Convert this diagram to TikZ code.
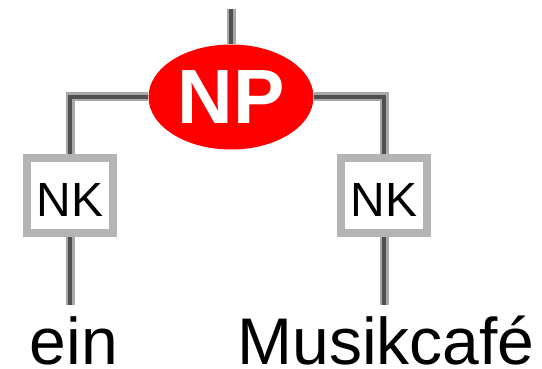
\documentclass[tikz,border=0pt]{standalone}
\usepackage{fontspec}
\setmainfont{Liberation Sans}
\usetikzlibrary{shapes.geometric}

\definecolor{edgecore}{HTML}{505050}
\definecolor{edgeside}{HTML}{A8A8A8}
\definecolor{boxgray}{HTML}{B4B4B4}

\begin{document}
\begin{tikzpicture}[x=1pt,y=-1pt,
    edge/.style={draw=edgeside,double=edgecore,double distance=4pt,line width=2.5pt,line join=miter},
    cat/.style={ellipse,fill=red,text=white,inner sep=0pt,minimum width=165pt,minimum height=105pt,font=\fontsize{77}{80}\selectfont\bfseries},
    fn/.style={draw=boxgray,line width=8pt,fill=white,inner sep=0pt,minimum width=86pt,minimum height=75pt,text height=43pt,text depth=0pt,font=\fontsize{48}{50}\selectfont},
    word/.style={inner sep=0pt,anchor=base,text height=47pt,font=\fontsize{66}{70}\selectfont}]
      \useasboundingbox (0,0) rectangle (542,369);
      \node[cat] (np) at (231,97) {NP};
      \node[fn] (nk1) at (70,195.5) {NK};
      \node[fn] (nk2) at (384,195.5) {NK};
      \node[word] (ein) at (74,364) {ein};
      \node[word] (musik) at (386,364) {Musikcafé};
      \coordinate (top) at (231,9);
      \draw[edge] (top) -- (np);
      \draw[edge] (nk1.north) |- (np);
      \draw[edge] (nk2.north) |- (np);
      \draw[edge,shorten >=12pt] (nk1.south) -- (nk1.south |- ein.north);
      \draw[edge,shorten >=12pt] (nk2.south) -- (nk2.south |- musik.north);
    \end{tikzpicture}
\end{document}
